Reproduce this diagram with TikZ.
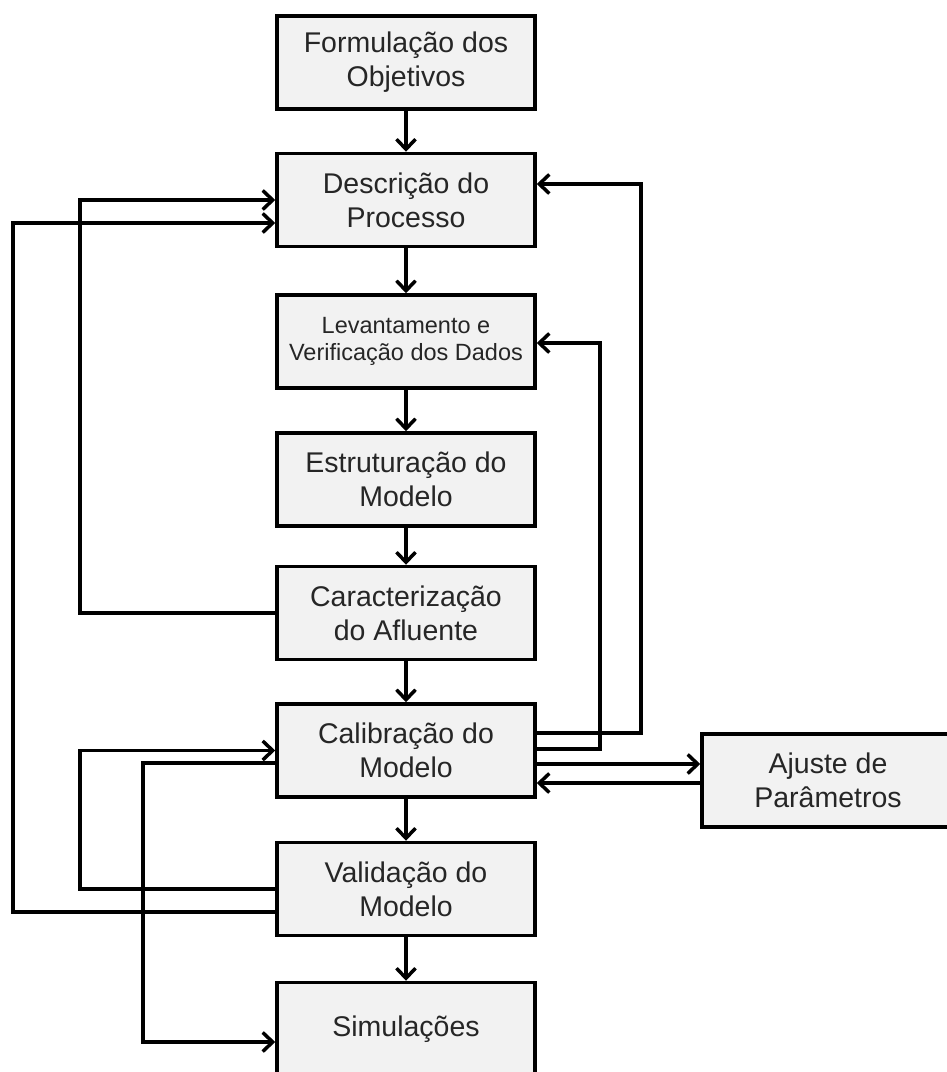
\documentclass[tikz,border=0pt]{standalone}
\usepackage{fontspec}
\setmainfont{Liberation Sans}
\usetikzlibrary{arrows.meta}
\definecolor{boxfill}{HTML}{F2F2F2}
\definecolor{txt}{HTML}{262626}
\begin{document}
\begin{tikzpicture}[x=1pt,y=-1pt,
  box/.style={draw=black,fill=boxfill,line width=3.5pt,minimum width=258pt,minimum height=93pt,
    align=center,text=txt,inner sep=0pt,font=\fontsize{28.5}{34}\selectfont},
  smallbox/.style={box,font=\fontsize{23.5}{27}\selectfont},
  arr/.style={line width=3.5pt,-{Straight Barb[length=10pt,width=19pt]}},
  ln/.style={line width=3.5pt}]
\clip (0,0) rectangle (947,1072);
\fill[white] (0,0) rectangle (947,1072);
\node[box] (f) at (406,62.5) {Formulação dos\\Objetivos};
\node[box] (d) at (406,200) {Descrição do\\Processo};
\node[smallbox] (l) at (406,341.5) {Levantamento e\\Verificação dos Dados};
\node[box] (e) at (406,479.5) {Estruturação do\\Modelo};
\node[box] (c) at (406,613) {Caracterização\\do Afluente};
\node[box] (cal) at (406,750.5) {Calibração do\\Modelo};
\node[box] (v) at (406,889) {Validação do\\Modelo};
\node[box] (s) at (406,1029) {Simulações};
\node[box,minimum width=252pt] (a) at (828,780.5) {Ajuste de\\Parâmetros};
% main chain
\draw[arr] (f) -- (d);
\draw[arr] (d) -- (l);
\draw[arr] (l) -- (e);
\draw[arr] (e) -- (c);
\draw[arr] (c) -- (cal);
\draw[arr] (cal) -- (v);
\draw[arr] (v) -- (s);
% left feedback loops
\draw[arr] (c.west) -- (80,613) -- (80,200) -- (d.west);
\draw[arr] (v.west |- 0,912) -- (13,912) -- (13,223) -- (d.west |- 0,223);
\draw[arr] (v.west) -- (80,889) -- (80,750.5) -- (cal.west);
\draw[arr] (cal.west |- 0,763) -- (143,763) -- (143,1042) -- (s.west |- 0,1042);
% right feedback loops
\draw[arr] (cal.east |- 0,733) -- (641,733) -- (641,184) -- (d.east |- 0,184);
\draw[arr] (cal.east |- 0,749) -- (600,749) -- (600,343) -- (l.east |- 0,343);
\draw[arr] (cal.east |- 0,764) -- (a.west |- 0,764);
\draw[arr] (a.west |- 0,783) -- (cal.east |- 0,783);
\end{tikzpicture}
\end{document}
